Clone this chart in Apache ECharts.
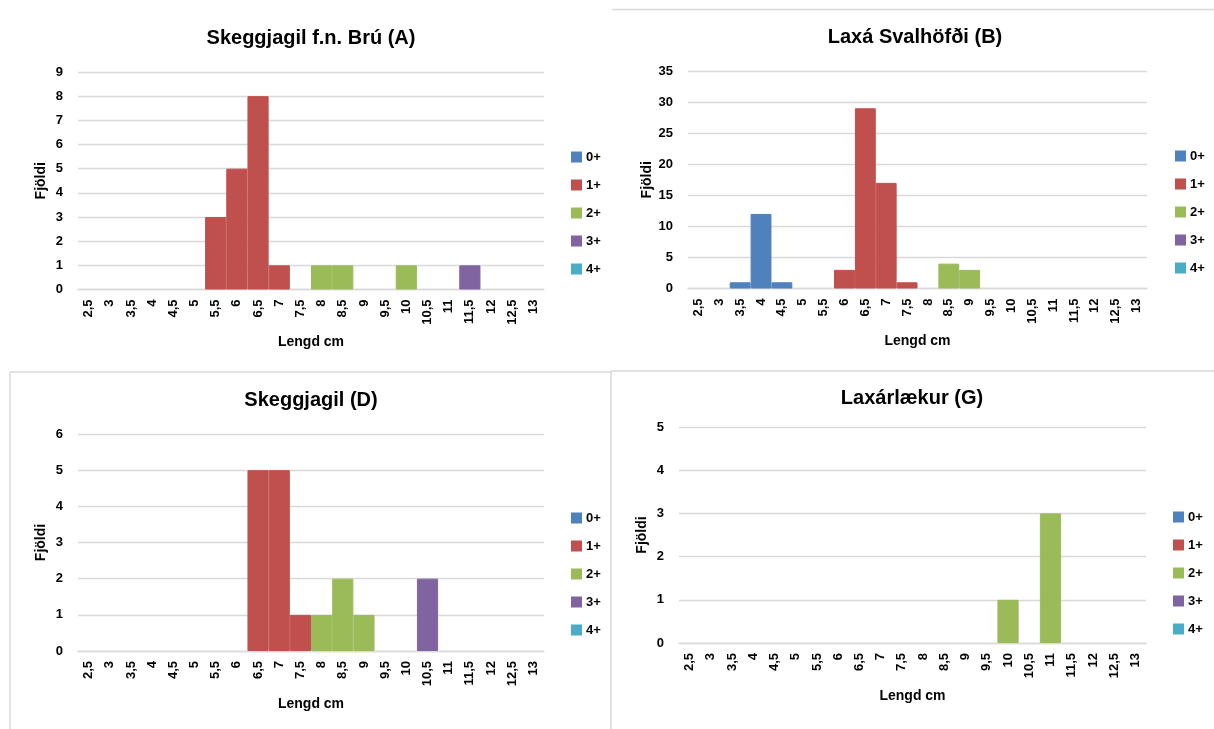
<!DOCTYPE html>
<html>
<head>
<meta charset="utf-8">
<script src="https://cdn.jsdelivr.net/npm/echarts@6/dist/echarts.min.js"></script>
<style>
html,body{margin:0;padding:0;background:#fff;}
#chart{width:1214px;height:729px;}
</style>
</head>
<body>
<div id="chart"></div>
<script>
// ---- Data ----
const categories = ['2,5','3','3,5','4','4,5','5','5,5','6','6,5','7','7,5','8','8,5','9','9,5','10','10,5','11','11,5','12','12,5','13'];
const ageGroups = ['0+','1+','2+','3+','4+'];
const titles = ['Skeggjagil f.n. Brú (A)','Laxá Svalhöfði (B)','Skeggjagil (D)','Laxárlækur (G)'];
const xAxisName = 'Lengd cm';
const yAxisName = 'Fjöldi';

// Chart A
const A_0 = [0,0,0,0,0,0,0,0,0,0,0,0,0,0,0,0,0,0,0,0,0,0];
const A_1 = [0,0,0,0,0,0,3,5,8,1,0,0,0,0,0,0,0,0,0,0,0,0];
const A_2 = [0,0,0,0,0,0,0,0,0,0,0,1,1,0,0,1,0,0,0,0,0,0];
const A_3 = [0,0,0,0,0,0,0,0,0,0,0,0,0,0,0,0,0,0,1,0,0,0];
const A_4 = [0,0,0,0,0,0,0,0,0,0,0,0,0,0,0,0,0,0,0,0,0,0];
// Chart B
const B_0 = [0,0,1,12,1,0,0,0,0,0,0,0,0,0,0,0,0,0,0,0,0,0];
const B_1 = [0,0,0,0,0,0,0,3,29,17,1,0,0,0,0,0,0,0,0,0,0,0];
const B_2 = [0,0,0,0,0,0,0,0,0,0,0,0,4,3,0,0,0,0,0,0,0,0];
const B_3 = [0,0,0,0,0,0,0,0,0,0,0,0,0,0,0,0,0,0,0,0,0,0];
const B_4 = [0,0,0,0,0,0,0,0,0,0,0,0,0,0,0,0,0,0,0,0,0,0];
// Chart D
const D_0 = [0,0,0,0,0,0,0,0,0,0,0,0,0,0,0,0,0,0,0,0,0,0];
const D_1 = [0,0,0,0,0,0,0,0,5,5,1,0,0,0,0,0,0,0,0,0,0,0];
const D_2 = [0,0,0,0,0,0,0,0,0,0,0,1,2,1,0,0,0,0,0,0,0,0];
const D_3 = [0,0,0,0,0,0,0,0,0,0,0,0,0,0,0,0,2,0,0,0,0,0];
const D_4 = [0,0,0,0,0,0,0,0,0,0,0,0,0,0,0,0,0,0,0,0,0,0];
// Chart G
const G_0 = [0,0,0,0,0,0,0,0,0,0,0,0,0,0,0,0,0,0,0,0,0,0];
const G_1 = [0,0,0,0,0,0,0,0,0,0,0,0,0,0,0,0,0,0,0,0,0,0];
const G_2 = [0,0,0,0,0,0,0,0,0,0,0,0,0,0,0,1,0,3,0,0,0,0];
const G_3 = [0,0,0,0,0,0,0,0,0,0,0,0,0,0,0,0,0,0,0,0,0,0];
const G_4 = [0,0,0,0,0,0,0,0,0,0,0,0,0,0,0,0,0,0,0,0,0,0];

const yMax = [9, 35, 6, 5];
const yInterval = [1, 5, 1, 1];

// ---- Styles / layout ----
const FONT = '"Liberation Sans", sans-serif';
const colors = ['#4F81BD','#C0504D','#9BBB59','#8064A2','#4BACC6'];
const grids = [
  {left:78, top:72, width:466, height:217.5},
  {left:688, top:71, width:459, height:217.5},
  {left:78, top:434, width:466, height:217},
  {left:679, top:427, width:467, height:216}
];
const titlePos = [[311,28],[915,27],[311,390],[912,388]];
const legendPos = [[571,150],[1175,149],[571,511],[1173,510]];
const datasets = [
  [A_0,A_1,A_2,A_3,A_4],
  [B_0,B_1,B_2,B_3,B_4],
  [D_0,D_1,D_2,D_3,D_4],
  [G_0,G_1,G_2,G_3,G_4]
];

const option = {
  animation:false,
  color: colors,
  title: titles.map((t,i)=>({
    text:t, left:titlePos[i][0], top:titlePos[i][1], textAlign:'center', padding:0,
    textStyle:{fontFamily:FONT, fontWeight:'bold', fontSize:20, color:'#000'}
  })),
  legend: legendPos.map(p=>({
    data: ageGroups, orient:'vertical', left:p[0], top:p[1], padding:0,
    icon:'rect', itemWidth:9, itemHeight:9, itemGap:14,
    textStyle:{fontFamily:FONT, fontWeight:'bold', fontSize:13, color:'#000', lineHeight:14}
  })),
  grid: grids,
  xAxis: grids.map((g,i)=>({
    type:'category', gridIndex:i, data:categories,
    name:xAxisName, nameLocation:'middle', nameGap:46,
    nameTextStyle:{fontFamily:FONT, fontWeight:'bold', fontSize:14, color:'#000'},
    axisLine:{lineStyle:{color:'#d9d9d9', width:1.3}},
    axisTick:{show:false},
    axisLabel:{interval:0, rotate:90, margin:10, fontFamily:FONT, fontWeight:'bold', fontSize:13, color:'#000'}
  })),
  yAxis: grids.map((g,i)=>({
    type:'value', gridIndex:i, min:0, max:yMax[i], interval:yInterval[i],
    name:yAxisName, nameLocation:'middle', nameGap:30,
    nameTextStyle:{fontFamily:FONT, fontWeight:'bold', fontSize:14, color:'#000'},
    axisLine:{show:false}, axisTick:{show:false},
    splitLine:{lineStyle:{color:'#d9d9d9', width:1.3}},
    axisLabel:{margin:15, fontFamily:FONT, fontWeight:'bold', fontSize:13, color:'#000'}
  })),
  series: [],
  graphic: [
    {type:'line', shape:{x1:612,y1:9.5,x2:1214,y2:9.5}, style:{stroke:'#d9d9d9', lineWidth:1.5}, silent:true},
    {type:'line', shape:{x1:10,y1:372,x2:611,y2:372}, style:{stroke:'#d9d9d9', lineWidth:1.5}, silent:true},
    {type:'line', shape:{x1:10,y1:372,x2:10,y2:729}, style:{stroke:'#d9d9d9', lineWidth:1.5}, silent:true},
    {type:'line', shape:{x1:611,y1:371,x2:1214,y2:371}, style:{stroke:'#d9d9d9', lineWidth:1.5}, silent:true},
    {type:'line', shape:{x1:611,y1:371,x2:611,y2:729}, style:{stroke:'#d9d9d9', lineWidth:1.5}, silent:true}
  ]
};

datasets.forEach((ds,i)=>{
  ds.forEach((vals,j)=>{
    option.series.push({
      type:'bar', name:ageGroups[j], xAxisIndex:i, yAxisIndex:i,
      stack:'s'+i, data:vals.map(v => v === 0 ? null : v),
      barCategoryGap:'0%', barGap:'0%',
      itemStyle:{color:colors[j], borderColor:colors[j], borderWidth:1}
    });
  });
});

const chart = echarts.init(document.getElementById('chart'), null, {renderer:'canvas'});
chart.setOption(option);
</script>
</body>
</html>
